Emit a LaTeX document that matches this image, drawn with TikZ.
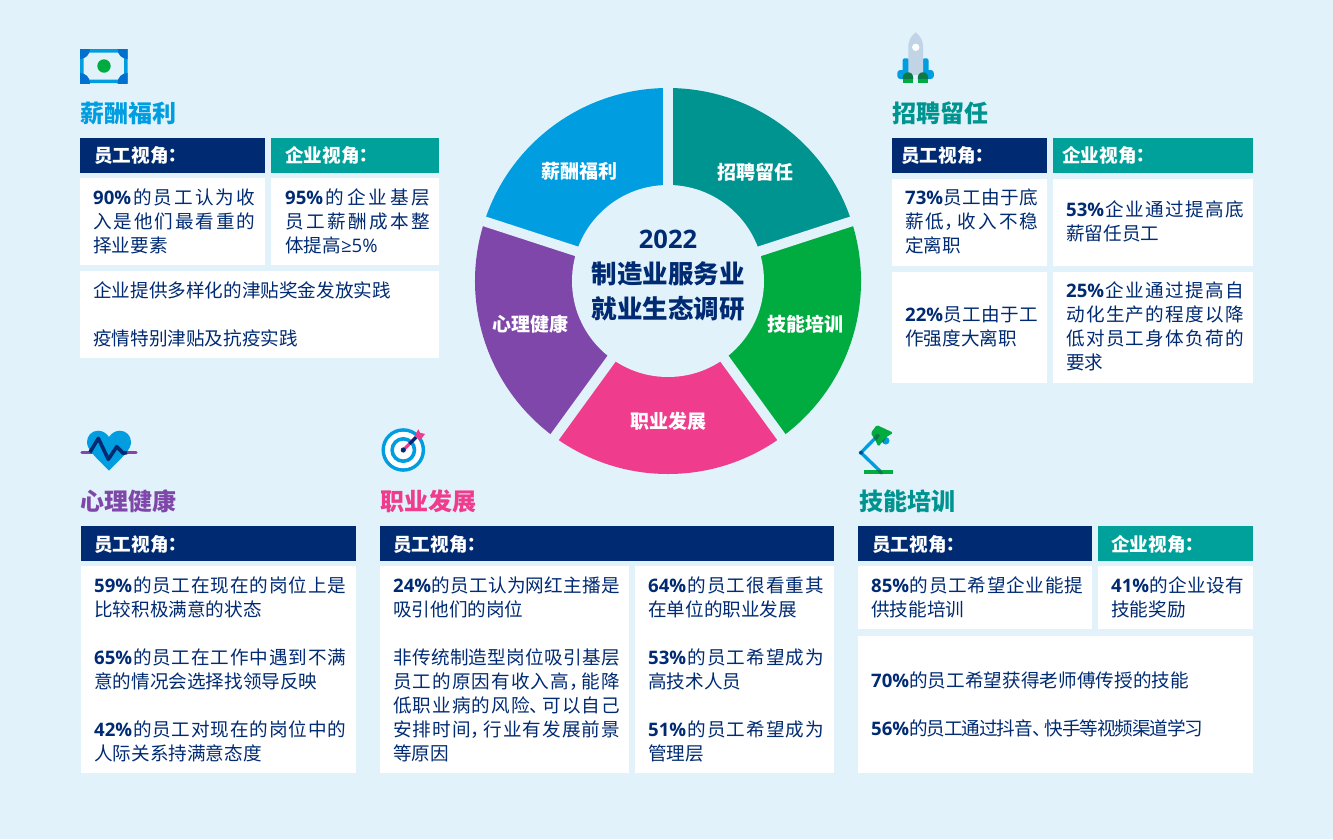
\documentclass[tikz,border=0pt]{standalone}
\usepackage{fontspec}
\setmainfont{Noto Sans CJK SC}
\newfontfamily\latf{Open Sans}
\newfontfamily\tcf{Noto Sans CJK TC}
\XeTeXlinebreaklocale "zh"
\XeTeXlinebreakskip=0pt plus 30pt minus 2pt
\definecolor{bgc}{HTML}{E1F2FB}
\definecolor{navy}{HTML}{002B73}
\definecolor{hteal}{HTML}{00A19A}
\definecolor{wteal}{HTML}{009490}
\definecolor{wblue}{HTML}{009EE0}
\definecolor{wgreen}{HTML}{00AB40}
\definecolor{wpink}{HTML}{EF3C8C}
\definecolor{wpurple}{HTML}{7F47A9}
\definecolor{dblue}{HTML}{0071CE}
\definecolor{dgreen}{HTML}{0B7A48}
\definecolor{rockgrey}{HTML}{C0D4E6}
\newcommand\pctx[1]{{\latf\bfseries #1}\hskip 0pt plus 30pt\relax}
\newcommand\lnf[1]{{\latf #1}}
\newcommand\Jst[2]{\parbox[b]{#1pt}{\parfillskip=0pt\relax #2}}
\newcommand\fst{\rule{0pt}{16pt}}
\newcommand\colonx{\kern-5pt{\tcf\bfseries ：}}
\newcommand\hp[1]{#1\kern-7pt\hskip 0pt plus 30pt\relax}
\tikzset{
  whitebox/.style={fill=white},
  navyhead/.style={fill=navy},
  tealhead/.style={fill=hteal},
  bodytxt/.style={anchor=north west,inner sep=0pt,align=left,text=navy,yshift=8.7pt,
    font=\fontsize{18.6}{24}\selectfont},
  headtxt/.style={anchor=west,inner sep=0pt,text=white,font=\fontsize{18.6}{24}\selectfont\bfseries},
  titletxt/.style={anchor=west,inner sep=0pt,font=\fontsize{24}{28}\selectfont\bfseries},
  wedgetxt/.style={inner sep=0pt,text=white,font=\fontsize{19}{24}\selectfont\bfseries},
  centertxt/.style={inner sep=0pt,text=navy,font=\fontsize{25.5}{30}\selectfont\bfseries},
}
\begin{document}
\begin{tikzpicture}[x=1pt,y=-1pt]
\useasboundingbox (0,0) rectangle (1333,839);
\fill[bgc] (0,0) rectangle (1333,839);

% donut
\begin{scope}[shift={(668,281)}]
\fill[wteal] (18:96pt) -- (18:193pt) arc[start angle=18,end angle=90,radius=193pt] -- (90:96pt) -- cycle;
\fill[wgreen] (-54:96pt) -- (-54:193pt) arc[start angle=-54,end angle=18,radius=193pt] -- (18:96pt) -- cycle;
\fill[wpink] (-126:96pt) -- (-126:193pt) arc[start angle=-126,end angle=-54,radius=193pt] -- (-54:96pt) -- cycle;
\fill[wpurple] (162:96pt) -- (162:193pt) arc[start angle=162,end angle=234,radius=193pt] -- (234:96pt) -- cycle;
\fill[wblue] (90:96pt) -- (90:193pt) arc[start angle=90,end angle=162,radius=193pt] -- (162:96pt) -- cycle;
\foreach \a in {90,18,-54,-126,162} \draw[bgc,line width=10pt] (0,0) -- (\a:200pt);
\fill[bgc] (0,0) circle[radius=96pt];
\end{scope}
\node[wedgetxt] (w1) at (579,171) {薪酬福利};
\node[wedgetxt] (w2) at (755,172) {招聘留任};
\node[wedgetxt] (w3) at (805,324) {技能培训};
\node[wedgetxt] (w4) at (668,421) {职业发展};
\node[wedgetxt] (w5) at (530,324) {心理健康};
\node[centertxt] (c1) at (668,239) {\latf\bfseries 2022};
\node[centertxt] (c2) at (668,274) {制造业服务业};
\node[centertxt] (c3) at (668,309) {就业生态调研};

% titles
\node[titletxt,text=wblue] (t1) at (80,113) {薪酬福利};
\node[titletxt,text=wteal] (t2) at (892,113) {招聘留任};
\node[titletxt,text=wpurple] (t3) at (80.5,501) {心理健康};
\node[titletxt,text=wpink] (t4) at (380.5,501) {职业发展};
\node[titletxt,text=wteal] (t5) at (859,501) {技能培训};

% top-left panels
\fill[navyhead] (80,138) rectangle (265,173);
\fill[tealhead] (271,138) rectangle (439,173);
\fill[whitebox] (80,178) rectangle (265,265);
\fill[whitebox] (271,178) rectangle (439,265);
\fill[whitebox] (80,271) rectangle (439,358);
\node[headtxt] (h1) at (94,155) {员工视角\colonx};
\node[headtxt] (h2) at (285,155) {企业视角\colonx};
\node[bodytxt] (a1) at (93,197) {\fst\Jst{162}{\pctx{90\%}的员工认为收}\\\Jst{162}{入是他们最看重的}\\择业要素};
\node[bodytxt] (a2) at (285,197) {\fst\Jst{145}{\pctx{95\%}的企业基层}\\\Jst{145}{员工薪酬成本整}\\体提高\lnf{≥5\%}};
\node[bodytxt] (a3) at (93,290) {\fst 企业提供多样化的津贴奖金发放实践\\[24pt]疫情特别津贴及抗疫实践};

% top-right panels
\fill[navyhead] (892,138) rectangle (1047,173);
\fill[tealhead] (1053,138) rectangle (1253,173);
\fill[whitebox] (892,179) rectangle (1047,266);
\fill[whitebox] (1053,179) rectangle (1253,266);
\fill[whitebox] (892,272) rectangle (1047,383);
\fill[whitebox] (1053,272) rectangle (1253,383);
\node[headtxt] (h3) at (901,155) {员工视角\colonx};
\node[headtxt] (h4) at (1062,155) {企业视角\colonx};
\node[bodytxt] (b1) at (905,197) {\fst\Jst{133}{\pctx{73\%}员工由于底}\\\Jst{133}{薪低\hp{，}收入不稳}\\定离职};
\node[bodytxt] (b2) at (905,314) {\fst\Jst{133}{\pctx{22\%}员工由于工}\\作强度大离职};
\node[bodytxt] (b3) at (1066,209) {\fst\Jst{178}{\pctx{53\%}企业通过提高底}\\薪留任员工};
\node[bodytxt] (b4) at (1066,290) {\fst\Jst{178}{\pctx{25\%}企业通过提高自}\\\Jst{178}{动化生产的程度以降}\\\Jst{178}{低对员工身体负荷的}\\要求};

% bottom-left panel
\fill[navyhead] (81,526) rectangle (356,561);
\fill[whitebox] (81,566) rectangle (356,773);
\node[headtxt] (h5) at (94,544) {员工视角\colonx};
\node[bodytxt] (d1) at (94,585) {\fst\Jst{252}{\pctx{59\%}的员工在现在的岗位上是}\\比较积极满意的状态\\[24pt]\Jst{252}{\pctx{65\%}的员工在工作中遇到不满}\\意的情况会选择找领导反映\\[24pt]\Jst{252}{\pctx{42\%}的员工对现在的岗位中的}\\人际关系持满意态度};

% bottom-middle panel
\fill[navyhead] (380,526) rectangle (834,561);
\fill[whitebox] (380,566) rectangle (629,773);
\fill[whitebox] (635,566) rectangle (834,773);
\node[headtxt] (h6) at (393,544) {员工视角\colonx};
\node[bodytxt] (e1) at (393,585) {\fst\Jst{227}{\pctx{24\%}的员工认为网红主播是}\\吸引他们的岗位\\[24pt]\Jst{227}{非传统制造型岗位吸引基层}\\\Jst{227}{员工的原因有收入高\hp{，}能降}\\\Jst{227}{低职业病的风险\hp{、}可以自己}\\\Jst{227}{安排时间\hp{，}行业有发展前景}\\等原因};
\node[bodytxt] (e2) at (648,585) {\fst\Jst{176}{\pctx{64\%}的员工很看重其}\\在单位的职业发展\\[24pt]\Jst{176}{\pctx{53\%}的员工希望成为}\\高技术人员\\[24pt]\Jst{176}{\pctx{51\%}的员工希望成为}\\管理层};

% bottom-right panel
\fill[navyhead] (858,526) rectangle (1092,561);
\fill[tealhead] (1098,526) rectangle (1253,561);
\fill[whitebox] (858,566) rectangle (1092,629);
\fill[whitebox] (1098,566) rectangle (1253,629);
\fill[whitebox] (858,636) rectangle (1253,773);
\node[headtxt] (h7) at (872,544) {员工视角\colonx};
\node[headtxt] (h8) at (1111,544) {企业视角\colonx};
\node[bodytxt] (f1) at (871,585) {\fst\Jst{212}{\pctx{85\%}的员工希望企业能提}\\供技能培训};
\node[bodytxt] (f2) at (1111,585) {\fst\Jst{133}{\pctx{41\%}的企业设有}\\技能奖励};
\node[bodytxt] (f3) at (871,680) {\fst\Jst{318}{\pctx{70\%}的员工希望获得老师傅传授的技能}\\[24pt]\Jst{332}{\pctx{56\%}的员工通过抖音\hp{、}快手等视频渠道学习}};

% icon: banknote
\begin{scope}[even odd rule]
\fill[wblue] (80,49) rectangle (127.5,83) (83.5,52.5) rectangle (124,79.5);
\clip (80,49) rectangle (127.5,83);
\fill[dblue] (80,49) circle[radius=10pt];
\fill[dblue] (127.5,49) circle[radius=10pt];
\fill[dblue] (80,83) circle[radius=10pt];
\fill[dblue] (127.5,83) circle[radius=10pt];
\end{scope}
\fill[wgreen] (104,66) circle[radius=6.7pt];

% icon: rocket
\fill[wblue,rounded corners=2pt] (902.7,79) -- (902.7,58.3) -- (909,58.3) -- (909,79) -- cycle;
\fill[wblue,rounded corners=2pt] (922.5,79) -- (922.5,58.3) -- (928.5,58.3) -- (928.5,79) -- cycle;
\fill[wblue,rounded corners=3pt] (897.3,79) rectangle (906,70);
\fill[wblue,rounded corners=3pt] (925,79) rectangle (933.8,70);
\fill[rockgrey] (915.7,32.3) .. controls (911,36) and (908.3,41) .. (908.3,46) -- (908.3,75) -- (923,75) -- (923,46) .. controls (923,41) and (920.4,36) .. (915.7,32.3) -- cycle;
\fill[white] (915.7,47.3) circle[radius=3.7pt];
\fill[dgreen] (902.7,79) .. controls (902.7,74.5) and (904.5,72.3) .. (908,72.3) .. controls (911.5,72.3) and (913.3,74.5) .. (913.3,79) -- cycle;
\fill[dgreen] (917.7,79) .. controls (917.7,74.5) and (919.5,72.3) .. (923,72.3) .. controls (926.5,72.3) and (928.3,74.5) .. (928.3,79) -- cycle;
\fill[wgreen] (902.7,79) rectangle (913.3,83);
\fill[wgreen] (917.7,79) rectangle (928.3,83);

% icon: heart
\draw[wpurple,line width=3.3pt,line cap=round] (82,452.7) -- (136,452.7);
\fill[wblue] (109,437) .. controls (106,432.5) and (102,430.7) .. (98,430.7) .. controls (91.5,430.7) and (87,436) .. (87,442) .. controls (87,449) and (93,454.7) .. (109,470.7) .. controls (125,454.7) and (131,449) .. (131,442) .. controls (131,436) and (126.5,430.7) .. (120,430.7) .. controls (116,430.7) and (112,432.5) .. (109,437) -- cycle;
\draw[navy,line width=3.6pt,line join=round] (90,452.3) -- (98.3,438.3) -- (108.3,459.3) -- (116.7,446.7) -- (123.3,453.3) -- (127,452.5);

% icon: target
\draw[wblue,line width=3.6pt] (403.3,450) circle[radius=20pt];
\fill[white] (403.3,450) circle[radius=18.2pt];
\draw[wblue,line width=3.6pt] (403.3,450) circle[radius=11.2pt];
\draw[wpink,line width=3.2pt] (403.3,450) -- (419,434.3);
\draw[navy,line width=3.2pt] (409.5,443.8) -- (416,437.3);
\fill[navy] (403.3,450) circle[radius=2.6pt];
\fill[wpink] (416,433.3) -- (418.3,429.3) -- (420,432.7) -- (425,434) -- (421.7,438.3) -- (418.3,439.3) -- cycle;

% icon: lamp
\fill[wgreen] (864,470) rectangle (892.7,474);
\draw[wblue,line width=3.3pt] (875,438.3) -- (861,452.7) -- (880.7,471.7);
\fill[wblue] (885.7,440.7) circle[radius=3.8pt];
\fill[wgreen,rounded corners=1.5pt] (876.7,425) -- (881.7,427.3) -- (893.3,432.7) -- (886,437.3) -- (878.3,446.7) -- (875,439.3) -- (870.7,433.3) -- cycle;
\fill[dgreen] (877,433.5) -- (880,435.5) -- (876,441) -- (873.7,437.5) -- cycle;
\fill[dgreen] (886,437.3) -- (883.5,442.5) -- (881.5,441.5) -- cycle;
\fill[dgreen] (876.5,470) -- (881,470) -- (883,474) -- (880,474) -- cycle;
\fill[navy!70!wblue] (861,452.7) circle[radius=2pt];
\end{tikzpicture}
\end{document}
